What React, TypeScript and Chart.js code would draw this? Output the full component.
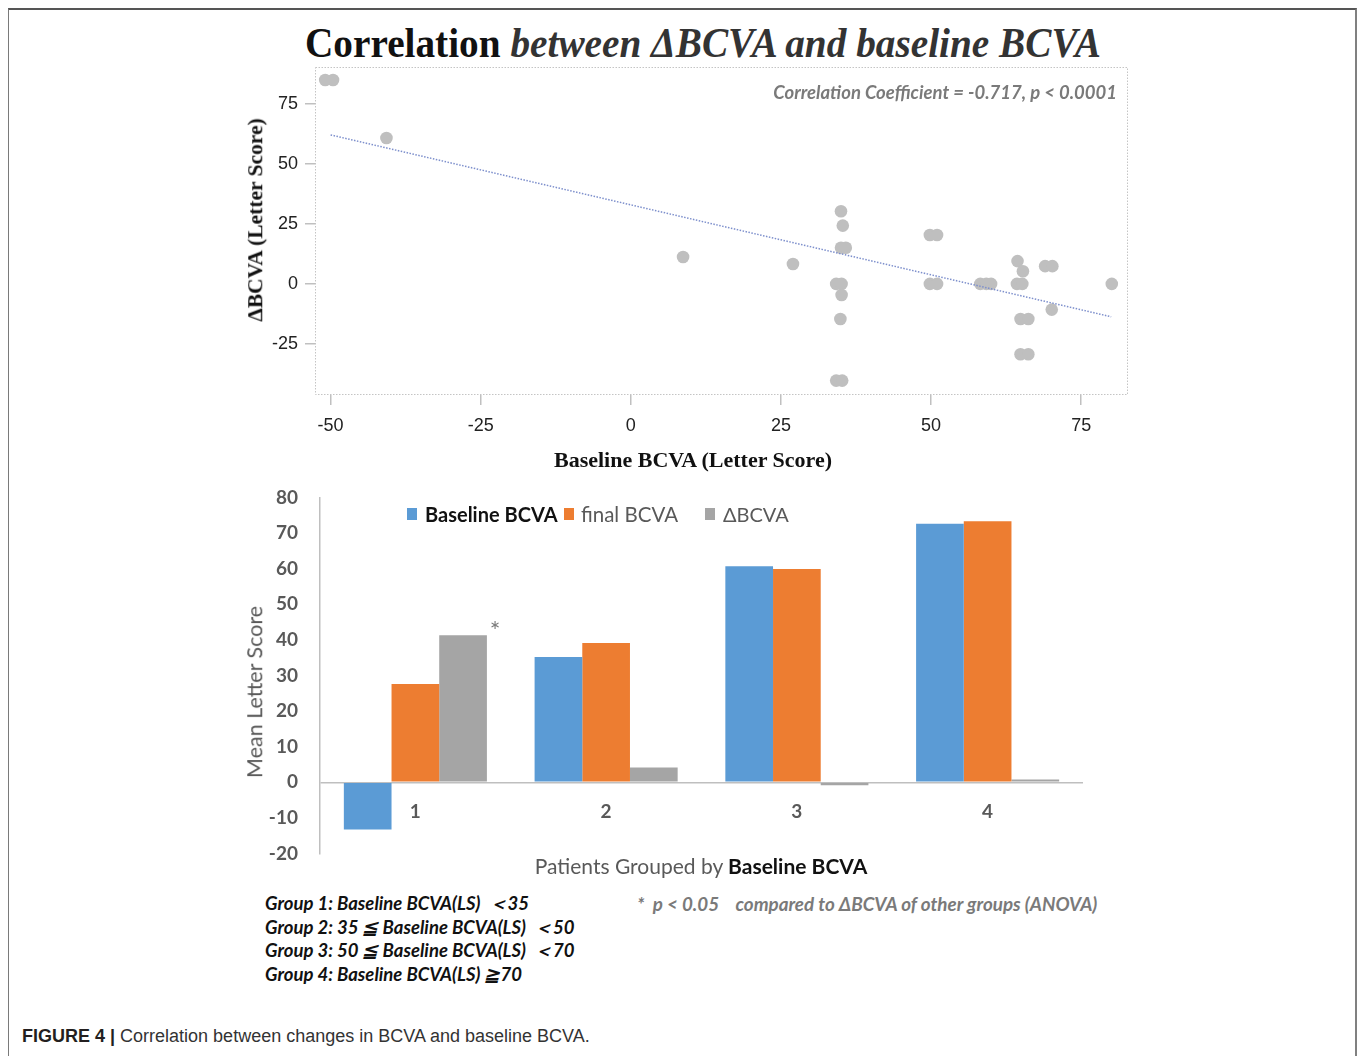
import React, { useEffect, useRef } from "react";
import { Chart, registerables } from "chart.js";
Chart.register(...registerables);

// ---------- Scatter data (Baseline BCVA vs ΔBCVA) ----------
const baselineX = [
  -50.9, -49.6, -40.7, 8.7, 27.0,
  35.0, 35.3, 35.0, 35.8, 34.2, 35.1, 35.1, 34.9, 34.2, 35.2,
  49.8, 51.0, 49.8, 51.0, 58.2, 59.2, 60.0,
  64.4, 65.3, 64.3, 65.2, 64.9, 66.2, 64.9, 66.2,
  69.0, 70.2, 70.1, 80.1,
];
const deltaY = [
  85, 85, 60.8, 11.2, 8.3,
  30.3, 24.3, 15.1, 15.1, 0, 0, -4.6, -14.6, -40.3, -40.3,
  20.4, 20.4, 0, 0, 0, 0, 0,
  9.5, 5.3, 0, 0, -14.6, -14.6, -29.3, -29.3,
  7.4, 7.4, -10.7, 0,
];
const trendX = [-50, 80];
const trendY = [62.1, -13.7];
const scatterXTicks = [-50, -25, 0, 25, 50, 75];
const scatterYTicks = [-25, 0, 25, 50, 75];

// ---------- Bar data ----------
const groups = ["1", "2", "3", "4"];
const baselineBCVA = [-13.2, 35.2, 60.7, 72.6];
const finalBCVA = [27.6, 39.1, 59.9, 73.3];
const deltaBCVA = [41.3, 4.2, -0.8, 0.8];
const barYTicksMin = -20;
const barYTicksMax = 80;

const notes = [
  "Group 1: Baseline BCVA(LS)  \uFF1C35",
  "Group 2: 35 \u2266 Baseline BCVA(LS)  \uFF1C50",
  "Group 3: 50 \u2266 Baseline BCVA(LS)  \uFF1C70",
  "Group 4: Baseline BCVA(LS) \u226770",
];

const CAL = "Lato, 'Open Sans', sans-serif";
const SERIF = "'Liberation Serif', 'DejaVu Serif', serif";
const ARIAL = "'Liberation Sans', Arial, sans-serif";

type TProps = { x: number; y: number; anchor?: "start" | "middle" | "end"; style?: React.CSSProperties; children: React.ReactNode; sx?: number };
const T = ({ x, y, anchor = "start", style, children, sx }: TProps) => {
  const tx = anchor === "start" ? "0" : anchor === "middle" ? "-50%" : "-100%";
  return (
    <div
      style={{
        position: "absolute",
        left: x,
        top: y,
        whiteSpace: "pre",
        lineHeight: 1,
        transform: `translate(${tx}, -50%)${sx ? ` scaleX(${sx})` : ""}`,
        transformOrigin: "0 50%",
        ...style,
      }}
    >
      {children}
    </div>
  );
};

const ScatterChart = () => {
  const ref = useRef<HTMLCanvasElement | null>(null);
  useEffect(() => {
    if (!ref.current) return;
    const frame = {
      id: "frame",
      beforeDatasetsDraw(chart: any) {
        const { ctx, chartArea } = chart;
        const { left, top, right, bottom } = chartArea;
        ctx.save();
        ctx.strokeStyle = "#c4c4c4";
        ctx.lineWidth = 1;
        ctx.setLineDash([1.5, 1.5]);
        ctx.strokeRect(left + 0.5, top + 0.5, right - left - 1, bottom - top - 1);
        ctx.restore();
      },
    };
    const chart = new Chart(ref.current, {
      type: "scatter",
      data: {
        datasets: [
          {
            label: "points",
            data: baselineX.map((x, i) => ({ x, y: deltaY[i] })),
            backgroundColor: "#bfbfbf",
            borderWidth: 0,
            pointRadius: 6.3,
            pointHoverRadius: 6.3,
            order: 2,
          },
          {
            type: "line",
            label: "trend",
            data: trendX.map((x, i) => ({ x, y: trendY[i] })),
            borderColor: "#7d8fcc",
            borderWidth: 1.5,
            borderDash: [1.5, 1.5],
            pointRadius: 0,
            fill: false,
            order: 1,
          } as any,
        ],
      },
      options: {
        animation: false,
        responsive: false,
        maintainAspectRatio: false,
        layout: { padding: { left: 0, right: 12, top: 27, bottom: 0 } },
        plugins: { legend: { display: false }, tooltip: { enabled: false } },
        scales: {
          x: {
            type: "linear",
            min: -52.6,
            max: 82.8,
            afterFit: (s: any) => { s.height = 65; },
            afterBuildTicks: (s: any) => { s.ticks = scatterXTicks.map((v) => ({ value: v })); },
            grid: { drawOnChartArea: false, drawTicks: true, tickLength: 10, color: "#c0c0c0", lineWidth: 1.5 },
            border: { display: false },
            ticks: { padding: 10, color: "#222", font: { family: ARIAL, size: 18 } },
          },
          y: {
            type: "linear",
            min: -46.3,
            max: 90.4,
            afterFit: (s: any) => { s.width = 85; },
            afterBuildTicks: (s: any) => { s.ticks = scatterYTicks.map((v) => ({ value: v })); },
            grid: { drawOnChartArea: false, drawTicks: true, tickLength: 10, color: "#c0c0c0", lineWidth: 1.5 },
            border: { display: false },
            ticks: { padding: 7, color: "#222", font: { family: ARIAL, size: 18 } },
          },
        },
      },
      plugins: [frame],
    });
    return () => chart.destroy();
  }, []);
  return <canvas ref={ref} width={910} height={420} style={{ position: "absolute", left: 230, top: 40, width: 910, height: 420 }} />;
};

const BarChart = () => {
  const ref = useRef<HTMLCanvasElement | null>(null);
  useEffect(() => {
    if (!ref.current) return;
    const catLabels = {
      id: "catLabels",
      afterDatasetsDraw(chart: any) {
        const { ctx, scales } = chart;
        const xs = scales.x;
        const ys = scales.y;
        ctx.save();
        ctx.fillStyle = "#595959";
        ctx.font = `bold 19px ${CAL}`;
        ctx.textAlign = "center";
        ctx.textBaseline = "middle";
        groups.forEach((g, i) => {
          ctx.fillText(g, xs.getPixelForValue(i), ys.getPixelForValue(0) + 30);
        });
        ctx.restore();
      },
    };
    const chart = new Chart(ref.current, {
      type: "bar",
      data: {
        labels: groups,
        datasets: [
          { label: "Baseline BCVA", data: baselineBCVA, backgroundColor: "#5b9bd5", borderWidth: 0 },
          { label: "final BCVA", data: finalBCVA, backgroundColor: "#ed7d31", borderWidth: 0 },
          { label: "ΔBCVA", data: deltaBCVA, backgroundColor: "#a5a5a5", borderWidth: 0 },
        ],
      },
      options: {
        animation: false,
        responsive: false,
        maintainAspectRatio: false,
        layout: { padding: { left: 0, right: 27, top: 17, bottom: 27 } },
        plugins: { legend: { display: false }, tooltip: { enabled: false } },
        datasets: { bar: { barPercentage: 1, categoryPercentage: 0.75 } },
        scales: {
          x: { display: false },
          y: {
            min: barYTicksMin,
            max: barYTicksMax,
            afterFit: (s: any) => { s.width = 90; },
            grid: {
              drawTicks: false,
              color: (c: any) => (c.tick && c.tick.value === 0 ? "#bfbfbf" : "rgba(0,0,0,0)"),
              lineWidth: 1.5,
            },
            border: { display: true, color: "#bfbfbf", width: 1.5 },
            ticks: { stepSize: 10, padding: 22, color: "#595959", font: { family: CAL, size: 19, weight: "bold" } },
          },
        },
      },
      plugins: [catLabels],
    });
    return () => chart.destroy();
  }, []);
  return <canvas ref={ref} width={880} height={423} style={{ position: "absolute", left: 230, top: 464, width: 880, height: 423 }} />;
};

export default function App() {
  const grey = "#595959";
  return (
    <div style={{ position: "absolute", left: 0, top: 0, width: 1358, height: 1056, overflow: "hidden", background: "#fff" }}>
      <div style={{ position: "absolute", left: 8, top: 8, width: 1346, height: 1100, borderLeft: "1px solid #7a7a7a", borderTop: "2px solid #555", borderRight: "2px solid #808080" }} />

      <T x={305} y={43} sx={0.935} style={{ fontFamily: SERIF, fontSize: 42, fontWeight: "bold", color: "#111" }}>
        Correlation <span style={{ fontStyle: "italic", color: "#333" }}>between ΔBCVA and baseline BCVA</span>
      </T>

      <ScatterChart />
      <T x={1117} y={92} anchor="end" style={{ fontFamily: CAL, fontSize: 18.5, fontWeight: "bold", fontStyle: "italic", color: "#7a7a7a" }}>
        Correlation Coefficient = -0.717, p &lt; 0.0001
      </T>
      <div style={{ position: "absolute", left: 256, top: 220, width: 0, height: 0 }}>
        <div style={{ position: "absolute", left: 0, top: 0, transform: "translate(-50%, -50%) rotate(-90deg)", whiteSpace: "nowrap", lineHeight: 1, fontFamily: SERIF, fontSize: 21.5, fontWeight: "bold", color: "#111" }}>
          ΔBCVA (Letter Score)
        </div>
      </div>
      <T x={693} y={460} anchor="middle" style={{ fontFamily: SERIF, fontSize: 22, fontWeight: "bold", color: "#111", transformOrigin: "50% 50%" }}>
        Baseline BCVA (Letter Score)
      </T>

      <BarChart />
      {/* legend */}
      <div style={{ position: "absolute", left: 407, top: 508, width: 10, height: 12, background: "#5b9bd5" }} />
      <T x={425} y={514} style={{ fontFamily: CAL, fontSize: 20, fontWeight: "bold", color: "#111" }}>Baseline BCVA</T>
      <div style={{ position: "absolute", left: 564, top: 508, width: 10, height: 12, background: "#ed7d31" }} />
      <T x={581} y={514} style={{ fontFamily: CAL, fontSize: 20.5, color: grey }}>final BCVA</T>
      <div style={{ position: "absolute", left: 705, top: 508, width: 10, height: 12, background: "#a5a5a5" }} />
      <T x={723} y={514} style={{ fontFamily: CAL, fontSize: 20, color: grey }}>ΔBCVA</T>

      <T x={495} y={630} anchor="middle" style={{ fontFamily: CAL, fontSize: 25, color: "#7a7a7a" }}>*</T>

      <div style={{ position: "absolute", left: 255, top: 692, width: 0, height: 0 }}>
        <div style={{ position: "absolute", left: 0, top: 0, transform: "translate(-50%, -50%) rotate(-90deg)", whiteSpace: "nowrap", lineHeight: 1, fontFamily: CAL, fontSize: 21.5, color: grey }}>
          Mean Letter Score
        </div>
      </div>
      <T x={701} y={865} anchor="middle" style={{ fontFamily: CAL, fontSize: 21, color: grey }}>
        Patients Grouped by <span style={{ fontWeight: "bold", color: "#111" }}>Baseline BCVA</span>
      </T>

      {notes.map((n, i) => (
        <T key={i} x={265} y={903 + i * 23.5} style={{ fontFamily: CAL, fontSize: 18.5, fontWeight: "bold", fontStyle: "italic", color: "#111" }}>
          {n}
        </T>
      ))}
      <T x={637} y={904} style={{ fontFamily: CAL, fontSize: 18.8, fontWeight: "bold", fontStyle: "italic", color: "#7a7a7a" }}>
        {"*  p < 0.05    compared to ΔBCVA of other groups (ANOVA)"}
      </T>

      <T x={22} y={1036} style={{ fontFamily: ARIAL, fontSize: 18, color: "#333" }}>
        <span style={{ fontWeight: "bold", color: "#231f20" }}>FIGURE 4 | </span>Correlation between changes in BCVA and baseline BCVA.
      </T>
    </div>
  );
}
